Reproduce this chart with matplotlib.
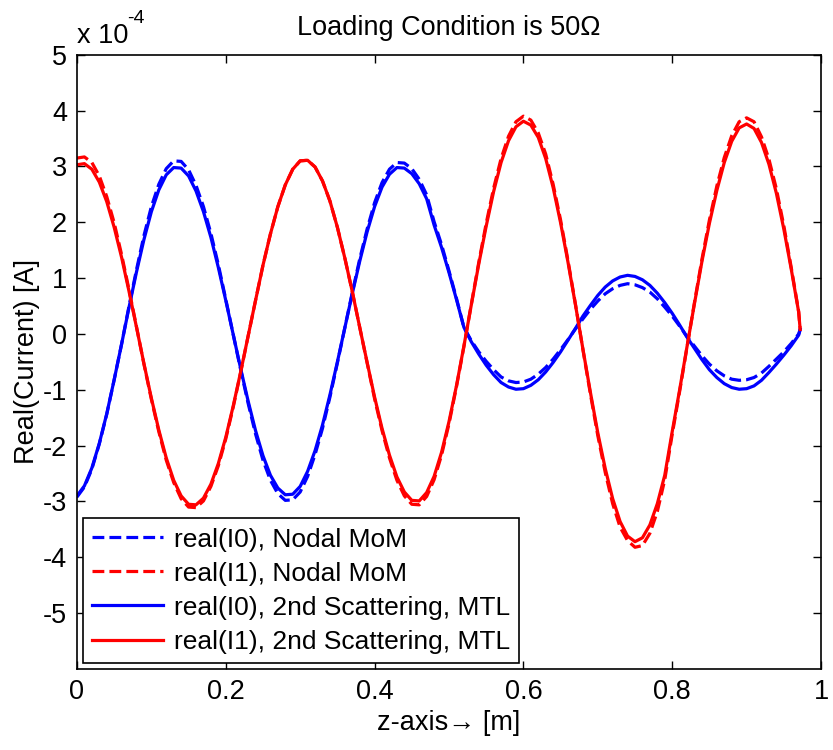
import numpy as np
import matplotlib.pyplot as plt
from matplotlib.ticker import FuncFormatter

plt.rcParams['font.family'] = ['Liberation Sans', 'DejaVu Sans']

# z positions [m]
z = [0.00, 0.01, 0.02, 0.03, 0.04, 0.05, 0.06, 0.07, 0.08, 0.09,
     0.10, 0.11, 0.12, 0.13, 0.14, 0.15, 0.16, 0.17, 0.18, 0.19,
     0.20, 0.21, 0.22, 0.23, 0.24, 0.25, 0.26, 0.27, 0.28, 0.29,
     0.30, 0.31, 0.32, 0.33, 0.34, 0.35, 0.36, 0.37, 0.38, 0.39,
     0.40, 0.41, 0.42, 0.43, 0.44, 0.45, 0.46, 0.47, 0.48, 0.49,
     0.50, 0.51, 0.52, 0.53, 0.54, 0.55, 0.56, 0.57, 0.58, 0.59,
     0.60, 0.61, 0.62, 0.63, 0.64, 0.65, 0.66, 0.67, 0.68, 0.69,
     0.70, 0.71, 0.72, 0.73, 0.74, 0.75, 0.76, 0.77, 0.78, 0.79,
     0.80, 0.81, 0.82, 0.83, 0.84, 0.85, 0.86, 0.87, 0.88, 0.89,
     0.90, 0.91, 0.92, 0.93, 0.94, 0.95, 0.96, 0.97, 0.972]

# real(I0), Nodal MoM  (x 1e-4 A)
i0_mom = [-2.92, -2.74, -2.42, -1.97, -1.44, -0.82, -0.18, 0.50, 1.15, 1.76,
          2.28, 2.68, 2.96, 3.10, 3.09, 2.94, 2.66, 2.28, 1.80, 1.24,
          0.62, -0.01, -0.64, -1.24, -1.79, -2.26, -2.62, -2.86, -2.98, -2.97,
          -2.83, -2.55, -2.16, -1.69, -1.13, -0.52, 0.11, 0.74, 1.34, 1.88,
          2.35, 2.71, 2.95, 3.07, 3.06, 2.96, 2.77, 2.49, 2.01, 1.60,
          1.13, 0.64, 0.12, -0.12, -0.32, -0.49, -0.64, -0.77, -0.84, -0.87,
          -0.86, -0.81, -0.72, -0.60, -0.45, -0.28, -0.10, 0.09, 0.27, 0.44,
          0.59, 0.72, 0.81, 0.87, 0.90, 0.88, 0.83, 0.75, 0.63, 0.48,
          0.32, 0.14, -0.05, -0.22, -0.39, -0.54, -0.66, -0.75, -0.81, -0.83,
          -0.82, -0.78, -0.70, -0.58, -0.45, -0.32, -0.17, 0.00, 0.08]

# real(I1), Nodal MoM
i1_mom = [3.15, 3.17, 3.07, 2.83, 2.46, 1.99, 1.42, 0.79, 0.13, -0.54,
          -1.17, -1.75, -2.26, -2.66, -2.95, -3.10, -3.11, -2.99, -2.73, -2.36,
          -1.88, -1.31, -0.69, -0.04, 0.60, 1.23, 1.79, 2.28, 2.67, 2.95,
          3.10, 3.11, 2.99, 2.74, 2.38, 1.91, 1.36, 0.76, 0.12, -0.52,
          -1.16, -1.73, -2.22, -2.62, -2.90, -3.05, -3.06, -2.91, -2.61, -2.17,
          -1.61, -0.95, -0.23, 0.53, 1.28, 1.98, 2.61, 3.14, 3.54, 3.80,
          3.90, 3.83, 3.60, 3.22, 2.68, 2.04, 1.31, 0.53, -0.28, -1.07,
          -1.82, -2.48, -3.04, -3.46, -3.70, -3.82, -3.79, -3.57, -3.18, -2.61,
          -1.80, -1.03, -0.23, 0.57, 1.34, 2.04, 2.65, 3.16, 3.55, 3.80,
          3.87, 3.80, 3.53, 3.13, 2.60, 1.94, 1.19, 0.40, 0.08]

# real(I0), 2nd Scattering, MTL
i0_mtl = [-2.90, -2.72, -2.40, -1.96, -1.43, -0.82, -0.18, 0.48, 1.11, 1.69,
          2.19, 2.58, 2.85, 2.98, 2.97, 2.83, 2.56, 2.19, 1.73, 1.19,
          0.60, -0.01, -0.62, -1.20, -1.73, -2.18, -2.53, -2.76, -2.88, -2.87,
          -2.73, -2.46, -2.09, -1.63, -1.09, -0.50, 0.11, 0.72, 1.30, 1.83,
          2.28, 2.63, 2.86, 2.98, 2.97, 2.87, 2.69, 2.42, 1.95, 1.55,
          1.10, 0.62, 0.12, -0.14, -0.36, -0.56, -0.73, -0.87, -0.95, -0.99,
          -0.98, -0.92, -0.82, -0.68, -0.51, -0.32, -0.11, 0.10, 0.32, 0.51,
          0.69, 0.84, 0.95, 1.02, 1.05, 1.03, 0.97, 0.87, 0.73, 0.56,
          0.37, 0.16, -0.06, -0.26, -0.46, -0.64, -0.78, -0.89, -0.96, -0.99,
          -0.98, -0.93, -0.83, -0.69, -0.54, -0.38, -0.21, -0.02, 0.08]

# real(I1), 2nd Scattering, MTL
i1_mtl = [3.03, 3.05, 2.95, 2.72, 2.37, 1.91, 1.37, 0.76, 0.12, -0.53,
          -1.15, -1.72, -2.22, -2.62, -2.90, -3.05, -3.06, -2.94, -2.69, -2.32,
          -1.85, -1.29, -0.68, -0.04, 0.60, 1.23, 1.79, 2.28, 2.67, 2.95,
          3.10, 3.11, 2.99, 2.74, 2.38, 1.91, 1.36, 0.76, 0.12, -0.51,
          -1.13, -1.69, -2.17, -2.56, -2.83, -2.98, -2.99, -2.84, -2.55, -2.12,
          -1.57, -0.93, -0.22, 0.52, 1.25, 1.93, 2.55, 3.07, 3.46, 3.71,
          3.81, 3.74, 3.52, 3.14, 2.62, 1.99, 1.28, 0.52, -0.27, -1.04,
          -1.77, -2.41, -2.95, -3.36, -3.62, -3.72, -3.65, -3.42, -3.04, -2.53,
          -1.75, -1.00, -0.22, 0.55, 1.30, 1.98, 2.57, 3.07, 3.45, 3.69,
          3.76, 3.68, 3.43, 3.04, 2.52, 1.88, 1.16, 0.39, 0.08]

scale = 1e-4
zz = np.array(z)
fs = 19.5

fig = plt.figure(figsize=(8.33, 7.5), dpi=100)
ax = fig.add_axes([0.0924, 0.108, 0.8932, 0.819])

lw = 2.3
ax.plot(zz, np.array(i0_mom) * scale, '--', color='#0000ff', lw=lw, label='real(I0), Nodal MoM')
ax.plot(zz, np.array(i1_mom) * scale, '--', color='#ff0000', lw=lw, label='real(I1), Nodal MoM')
ax.plot(zz, np.array(i0_mtl) * scale, '-', color='#0000ff', lw=lw, label='real(I0), 2nd Scattering, MTL')
ax.plot(zz, np.array(i1_mtl) * scale, '-', color='#ff0000', lw=lw, label='real(I1), 2nd Scattering, MTL')

ax.set_xlim(0, 1)
ax.set_ylim(-6e-4, 5e-4)
ax.set_xticks([0, 0.2, 0.4, 0.6, 0.8, 1])
ax.set_xticklabels(['0', '0.2', '0.4', '0.6', '0.8', '1'])
ax.set_yticks(np.arange(-5, 6) * scale)
ax.yaxis.set_major_formatter(FuncFormatter(lambda v, p: '%d' % round(v / scale)))
ax.tick_params(direction='in', length=6, width=1, top=True, right=True,
               labelsize=fs, pad=7)
for s in ax.spines.values():
    s.set_linewidth(1.2)

# MATLAB-style exponent label
ax.text(0.0, 1.01, 'x 10', transform=ax.transAxes, fontsize=fs,
        ha='left', va='bottom')
ax.text(0.068, 1.045, '-4', transform=ax.transAxes, fontsize=14,
        ha='left', va='bottom')
ax.set_title('Loading Condition is 50\u03a9', fontsize=fs, pad=14)
ax.set_xlabel('z-axis\u2192 [m]', fontsize=fs, labelpad=4)
ax.set_ylabel('Real(Current) [A]', fontsize=fs, labelpad=2)

leg = ax.legend(loc='lower left', bbox_to_anchor=(0.0077, 0.0098), borderaxespad=0,
                fontsize=19, handlelength=2.7, labelspacing=0.38, borderpad=0.35,
                handletextpad=0.4, fancybox=False, framealpha=1, edgecolor='black')
leg.get_frame().set_linewidth(1.2)

fig.savefig('out.png', dpi=100)
